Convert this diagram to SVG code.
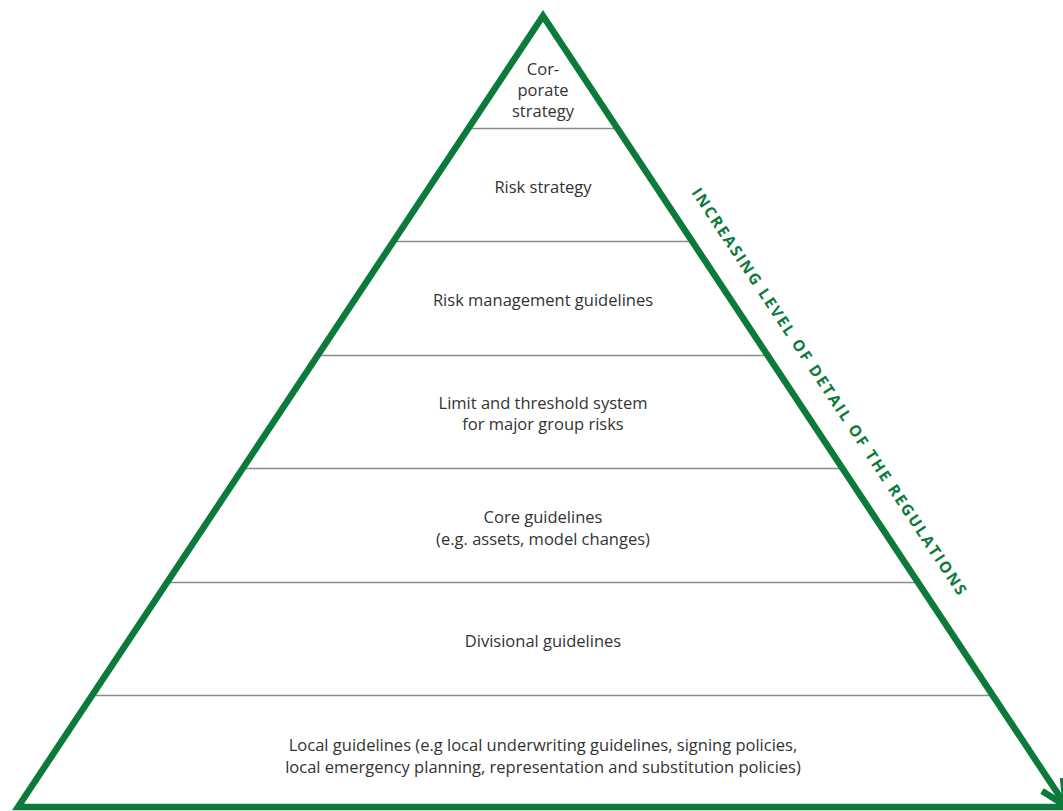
<svg xmlns="http://www.w3.org/2000/svg" width="1063" height="811" viewBox="0 0 1063 811">
<style>
.lbl{font-family:"Open Sans","Liberation Sans",sans-serif;font-size:16.5px;fill:#333;text-anchor:middle}
.sep{stroke:#8a8a8a;stroke-width:1.5;fill:none}
.edge{stroke:#0b7a3a;stroke-width:6.5;fill:none;stroke-linejoin:miter;stroke-miterlimit:10}
.side{font-family:"Open Sans","Liberation Sans",sans-serif;font-size:15.5px;font-weight:700;fill:#0b7a3a}
</style>
<rect width="1063" height="811" fill="#fff"/>
<g id="separators">
<line class="sep" x1="469" y1="128.5" x2="617" y2="128.5"/>
<line class="sep" x1="394" y1="241.5" x2="692" y2="241.5"/>
<line class="sep" x1="318" y1="355.5" x2="768" y2="355.5"/>
<line class="sep" x1="243" y1="468.5" x2="843" y2="468.5"/>
<line class="sep" x1="168" y1="582.5" x2="918" y2="582.5"/>
<line class="sep" x1="93" y1="695.5" x2="993" y2="695.5"/>
</g>
<g id="connectors">
<path class="edge" d="M1063,807 L18,807 L543,16 L1066,806"/>
<path class="edge" d="M1042,791 L1066,806 L1063,778"/>
</g>
<g id="n1"><text class="lbl" x="543" y="75">Cor-</text><text class="lbl" x="543" y="96">porate</text><text class="lbl" x="543" y="117">strategy</text></g>
<g id="n2"><text class="lbl" x="543" y="193">Risk strategy</text></g>
<g id="n3"><text class="lbl" x="543" y="306">Risk management guidelines</text></g>
<g id="n4"><text class="lbl" x="543" y="409">Limit and threshold system</text><text class="lbl" x="543" y="430">for major group risks</text></g>
<g id="n5"><text class="lbl" x="543" y="523">Core guidelines</text><text class="lbl" x="543" y="545">(e.g. assets, model changes)</text></g>
<g id="n6"><text class="lbl" x="543" y="647">Divisional guidelines</text></g>
<g id="n7"><text class="lbl" x="543" y="751">Local guidelines (e.g local underwriting guidelines, signing policies,</text><text class="lbl" x="543" y="773">local emergency planning, representation and substitution policies)</text></g>
<g id="side-label"><text class="side" transform="translate(543,16) rotate(56.5)" x="229" y="-26" textLength="484" lengthAdjust="spacing">INCREASING LEVEL OF DETAIL OF THE REGULATIONS</text></g>
</svg>
